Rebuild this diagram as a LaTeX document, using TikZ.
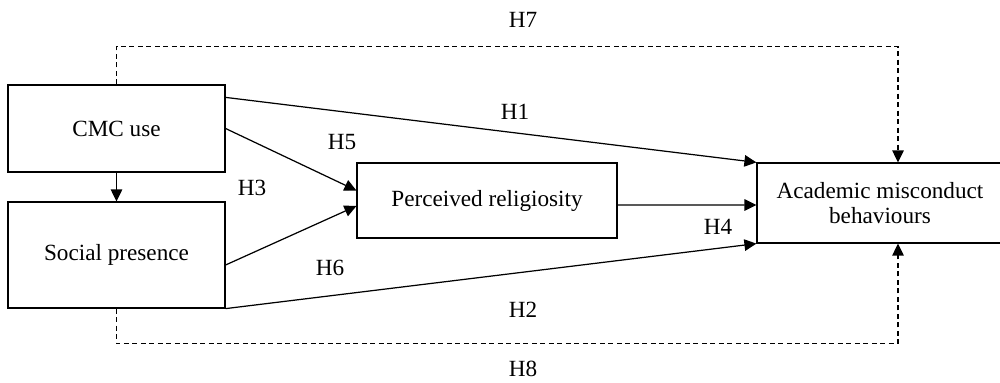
\documentclass[tikz,border=0pt]{standalone}
\usepackage{fontspec}
\setmainfont{Liberation Serif}
\usepackage{tikz}
\usetikzlibrary{arrows.meta,positioning}
\tikzset{
    block/.style={rectangle, draw, line width=0.7pt, align=center, inner sep=2pt},
    edge/.style={draw, line width=0.7pt, -{Triangle[length=2.4mm,width=2.3mm]}},
    dashedge/.style={edge, dash pattern=on 1mm off 0.7mm},
    hyp/.style={inner sep=1pt}
}

\begin{document}
\begin{tikzpicture}[x=0.02cm, y=-0.02cm, font=\fontsize{13.2}{14.5}\selectfont]
    \useasboundingbox (0,0) rectangle (1000,382);

    % Nodes
    \node[block, minimum width=4.34cm, minimum height=1.74cm] (cmc) at (116.5,128.5) {CMC use};
    \node[block, minimum width=4.34cm, minimum height=2.12cm] (social) at (116.5,255) {Social presence};
    \node[block, minimum width=5.2cm, minimum height=1.5cm] (relig) at (487,200.5) {Perceived religiosity};
    \node[block, minimum width=4.92cm, minimum height=1.6cm] (acad) at (880,203) {Academic misconduct\\behaviours};

    % labels
    \node[hyp] (h1) at (515,112) {H1};
    \node[hyp] (h2) at (523,310) {H2};
    \node[hyp] (h3) at (252,188) {H3};
    \node[hyp] (h4) at (718,227) {H4};
    \node[hyp] (h5) at (342,142) {H5};
    \node[hyp] (h6) at (330,268) {H6};
    \node[hyp] (h7) at (523,20) {H7};
    \node[hyp] (h8) at (523,369) {H8};

    % edges
    \draw[edge] (cmc.south) -- (social.north);
    \draw[edge] ([yshift=-0.26cm]cmc.north east) -- (acad.north west);
    \draw[edge] (cmc.east) -- ([yshift=0.2cm]relig.west);
    \draw[edge] ([yshift=-0.2cm]social.east) -- ([yshift=-0.11cm]relig.west);
    \draw[edge] ([yshift=-0.09cm]relig.east) -- ([yshift=-0.04cm]acad.west);
    \draw[edge] (social.south east) -- (acad.south west);
    \draw[dashedge] (cmc.north) -- ++(0,-38) -| ([xshift=0.36cm]acad.north);
    \draw[dashedge] (social.south) -- ++(0,35) -| ([xshift=0.36cm]acad.south);
\end{tikzpicture}
\end{document}
